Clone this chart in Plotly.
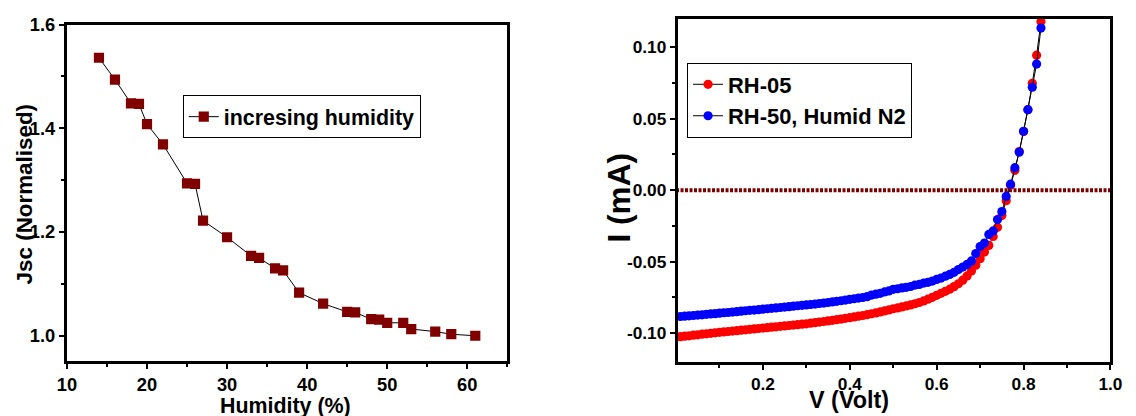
import plotly.graph_objects as go

# ---------------- Left panel data ----------------
humidity = [14, 16, 18, 19, 20, 22, 25, 26, 27, 30, 33, 34, 36, 37, 39, 42,
            45, 46, 48, 49, 50, 52, 53, 56, 58, 61]
jsc_norm = [1.536, 1.494, 1.448, 1.447, 1.408, 1.369, 1.294, 1.293, 1.222,
            1.190, 1.154, 1.150, 1.130, 1.126, 1.083, 1.062, 1.046, 1.045,
            1.032, 1.031, 1.025, 1.025, 1.013, 1.008, 1.003, 1.000]
left_name = "incresing humidity"

# ---------------- Right panel data ----------------
voltage = [0.01, 0.02, 0.03, 0.04, 0.05, 0.06, 0.07, 0.08, 0.09, 0.10,
           0.11, 0.12, 0.13, 0.14, 0.15, 0.16, 0.17, 0.18, 0.19, 0.20,
           0.21, 0.22, 0.23, 0.24, 0.25, 0.26, 0.27, 0.28, 0.29, 0.30,
           0.31, 0.32, 0.33, 0.34, 0.35, 0.36, 0.37, 0.38, 0.39, 0.40,
           0.41, 0.42, 0.43, 0.44, 0.45, 0.46, 0.47, 0.48, 0.49, 0.50,
           0.51, 0.52, 0.53, 0.54, 0.55, 0.56, 0.57, 0.58, 0.59, 0.60,
           0.61, 0.62, 0.63, 0.64, 0.65, 0.66, 0.67, 0.68, 0.69, 0.70,
           0.71, 0.72, 0.73, 0.74, 0.75, 0.76, 0.77, 0.78, 0.79, 0.80,
           0.81, 0.82, 0.83, 0.84]
current_rh05 = [-0.1025, -0.1022, -0.1019, -0.1015, -0.1012, -0.1008, -0.1005, -0.1002, -0.0998, -0.0995,
                -0.0992, -0.0989, -0.0986, -0.0983, -0.0980, -0.0977, -0.0974, -0.0971, -0.0968, -0.0965,
                -0.0962, -0.0959, -0.0956, -0.0953, -0.0950, -0.0947, -0.0944, -0.0941, -0.0938, -0.0935,
                -0.0931, -0.0927, -0.0923, -0.0919, -0.0915, -0.0911, -0.0906, -0.0902, -0.0897, -0.0892,
                -0.0887, -0.0882, -0.0877, -0.0871, -0.0865, -0.0859, -0.0852, -0.0845, -0.0838, -0.0830,
                -0.0824, -0.0817, -0.0810, -0.0803, -0.0795, -0.0786, -0.0775, -0.0763, -0.0750, -0.0736,
                -0.0722, -0.0708, -0.0693, -0.0675, -0.0655, -0.0630, -0.0600, -0.0565, -0.0525, -0.0480,
                -0.0433, -0.0387, -0.0324, -0.0260, -0.0178, -0.0074, 0.0035, 0.0139, 0.0270, 0.0410,
                0.0563, 0.0748, 0.0944, 0.1180]
current_rh50 = [-0.0884, -0.0882, -0.0879, -0.0877, -0.0874, -0.0872, -0.0869, -0.0866, -0.0864, -0.0861,
                -0.0858, -0.0856, -0.0853, -0.0850, -0.0847, -0.0844, -0.0841, -0.0839, -0.0836, -0.0833,
                -0.0830, -0.0827, -0.0824, -0.0821, -0.0818, -0.0815, -0.0812, -0.0809, -0.0806, -0.0803,
                -0.0800, -0.0797, -0.0793, -0.0790, -0.0786, -0.0782, -0.0778, -0.0774, -0.0769, -0.0764,
                -0.0760, -0.0755, -0.0751, -0.0745, -0.0734, -0.0728, -0.0722, -0.0712, -0.0705, -0.0694,
                -0.0690, -0.0684, -0.0680, -0.0674, -0.0664, -0.0660, -0.0650, -0.0645, -0.0636, -0.0625,
                -0.0615, -0.0602, -0.0590, -0.0575, -0.0556, -0.0538, -0.0520, -0.0495, -0.0444, -0.0395,
                -0.0370, -0.0310, -0.0285, -0.0206, -0.0150, -0.0044, 0.0042, 0.0157, 0.0266, 0.0412,
                0.0563, 0.0720, 0.0882, 0.1134]
zero_v = [0.0, 1.0]
zero_i = [0.0, 0.0]
right_names = ["RH-05", "RH-50, Humid N2"]

y2_tickvals = [-0.10, -0.05, 0.00, 0.05, 0.10]
y2_ticktext = ["-0.10", "-0.05", "0.00", "0.05", "0.10"]

FONT = "Liberation Sans, Arial, sans-serif"
W, H = 1136, 416
# The page shows the figure offset by 8px and slightly reduced, so
# target screen positions are converted back to figure coordinates.
OFF, K = 8.0, 0.982


def px_x(x):
    return ((x - OFF) / K) / W


def px_y(y):
    return (H - (y - OFF) / K) / H


def fs(size):
    return round(size / K, 1)


fig = go.Figure()

fig.add_trace(go.Scatter(
    x=humidity, y=jsc_norm, name=left_name, mode="lines+markers",
    line=dict(color="black", width=1),
    marker=dict(symbol="square", size=fs(10), color="#800000", line=dict(width=0)),
    xaxis="x", yaxis="y", legend="legend"))

fig.add_trace(go.Scatter(
    x=zero_v, y=zero_i, mode="lines", showlegend=False,
    line=dict(color="#800000", width=4, dash="3px,1.5px"),
    xaxis="x2", yaxis="y2"))

fig.add_trace(go.Scatter(
    x=voltage, y=current_rh05, name=right_names[0], mode="lines+markers",
    line=dict(color="black", width=1),
    marker=dict(symbol="circle", size=fs(9), color="#ff0000", line=dict(width=0)),
    xaxis="x2", yaxis="y2", legend="legend2"))

fig.add_trace(go.Scatter(
    x=voltage, y=current_rh50, name=right_names[1], mode="lines+markers",
    line=dict(color="black", width=1),
    marker=dict(symbol="circle", size=fs(9), color="#0000ff", line=dict(width=0)),
    xaxis="x2", yaxis="y2", legend="legend2"))

axis_common = dict(showgrid=False, zeroline=False, showline=True, linewidth=3,
                   linecolor="black", mirror=True, ticks="outside", ticklen=5,
                   tickwidth=2, tickcolor="black",
                   tickfont=dict(family=FONT, size=fs(18), color="black", weight="bold"))
minor_style = dict(ticks="outside", ticklen=3, tickwidth=2, tickcolor="black")
tf17 = dict(family=FONT, size=fs(17), color="black", weight="bold")

fig.update_layout(
    width=W, height=H,
    margin=dict(l=0, r=0, t=0, b=0),
    paper_bgcolor="white", plot_bgcolor="white",
    font=dict(family=FONT, color="black"),
    xaxis=dict(domain=[px_x(65), px_x(506)], range=[10, 65], tick0=10, dtick=10,
               anchor="y", minor=dict(dtick=5, **minor_style), **axis_common),
    yaxis=dict(domain=[px_y(360.7), px_y(21.7)], range=[0.952, 1.6], tick0=1.0, dtick=0.2,
               tickformat=".1f", anchor="x", minor=dict(dtick=0.1, **minor_style),
               **axis_common),
    xaxis2=dict(domain=[px_x(676.7), px_x(1110)], range=[0.004, 1.0], tick0=0, dtick=0.2,
                tickformat=".1f", anchor="y2", minor=dict(dtick=0.1, **minor_style),
                **{**axis_common, "tickfont": tf17}),
    yaxis2=dict(domain=[px_y(361.7), px_y(15.7)], range=[-0.12, 0.12], tickmode="array",
                tickvals=y2_tickvals, ticktext=y2_ticktext, anchor="x2",
                minor=dict(dtick=0.025, **minor_style),
                **{**axis_common, "tickfont": tf17}),
    legend=dict(x=px_x(181), y=px_y(93), xanchor="left", yanchor="top",
                bordercolor="black", borderwidth=1, bgcolor="white",
                font=dict(family=FONT, size=fs(21), color="black", weight="bold")),
    legend2=dict(x=px_x(686), y=px_y(60), xanchor="left", yanchor="top",
                 bordercolor="black", borderwidth=1, bgcolor="white",
                 font=dict(family=FONT, size=fs(21.5), color="black", weight="bold")),
    annotations=[
        dict(text="Jsc (Normalised)", x=px_x(22), y=px_y(193), xref="paper", yref="paper",
             textangle=-90, showarrow=False, xanchor="center", yanchor="middle",
             font=dict(family=FONT, size=fs(22), color="black", weight="bold")),
        dict(text="Humidity (%)", x=px_x(284), y=px_y(392), xref="paper", yref="paper",
             showarrow=False, xanchor="center", yanchor="top",
             font=dict(family=FONT, size=fs(21), color="black", weight="bold")),
        dict(text="I (mA)", x=px_x(618), y=px_y(196), xref="paper", yref="paper",
             textangle=-90, showarrow=False, xanchor="center", yanchor="middle",
             font=dict(family=FONT, size=fs(31), color="black", weight="bold")),
        dict(text="V (Volt)", x=px_x(848), y=px_y(385), xref="paper", yref="paper",
             showarrow=False, xanchor="center", yanchor="top",
             font=dict(family=FONT, size=fs(23), color="black", weight="bold")),
    ],
)

fig.write_html("out.html")
